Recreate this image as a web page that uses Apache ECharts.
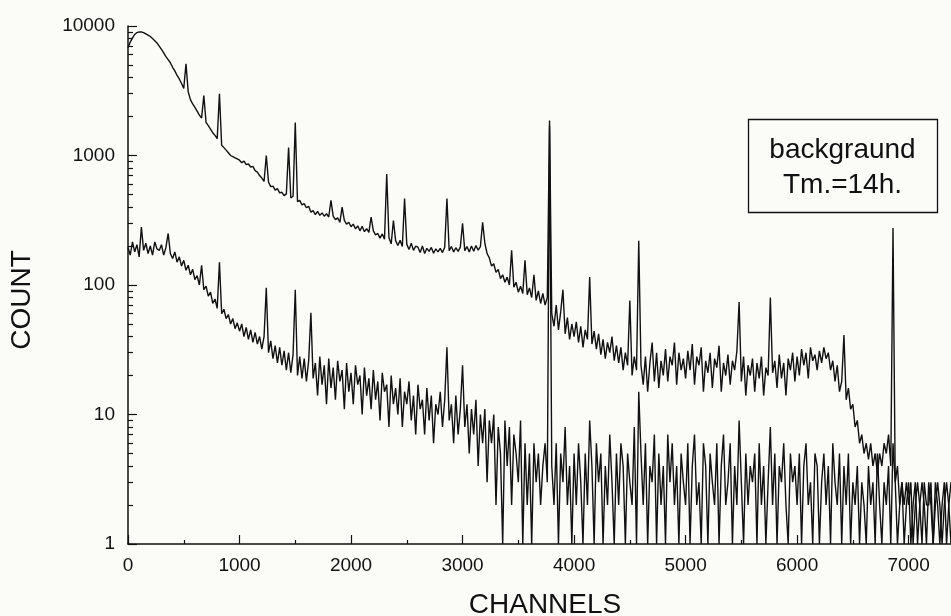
<!DOCTYPE html>
<html>
<head>
<meta charset="utf-8">
<style>
html,body{margin:0;padding:0;background:#fbfbf8;}
.box{width:951px;height:616px;}
</style>
<script src="https://cdn.jsdelivr.net/npm/echarts@6/dist/echarts.min.js"></script>
</head>
<body>
<div class="box" id="c"></div>
<script>
// channel spacing of the sampled values below
const CH_STEP = 20;
const X_MIN = 0;
const X_MAX = 7380;
const X_INTERVAL = 1000;
const Y_MIN = 1;
const Y_MAX = 10000;

// Upper spectrum (counts), one value every CH_STEP channels from channel 0
const upperCounts = [
  6800, 7500, 8100, 8600, 8900, 9000, 9000, 8900, 8700, 8500,
  8300, 8000, 7700, 7400, 7000, 6600, 6200, 5800, 5500, 5200,
  4800, 4500, 4150, 3900, 3600, 3300, 5100, 3100, 2700, 2500,
  2350, 2200, 2050, 1950, 2900, 1800, 1700, 1600, 1500, 1430,
  1350, 3000, 1200, 1150, 1100, 1050, 1000, 980, 960, 940,
  920, 880, 905, 850, 860, 815, 825, 765, 745, 700,
  670, 630, 1000, 625, 575, 580, 540, 555, 515, 520,
  490, 505, 1150, 470, 485, 1800, 440, 450, 415, 425,
  395, 405, 365, 375, 350, 370, 345, 360, 340, 355,
  335, 450, 340, 320, 330, 305, 400, 315, 295, 305,
  282, 295, 272, 286, 262, 284, 258, 272, 255, 335,
  262, 244, 250, 230, 248, 226, 720, 232, 208, 315,
  220, 202, 222, 198, 465, 206, 188, 210, 185, 200,
  196, 178, 200, 175, 192, 182, 195, 176, 190, 180,
  192, 178, 196, 465, 184, 198, 180, 194, 182, 196,
  300, 184, 198, 180, 200, 182, 202, 186, 198, 305,
  210, 175, 162, 140, 146, 125, 132, 112, 120, 105,
  115, 100, 185, 96, 105, 88, 98, 86, 155, 84,
  95, 80, 120, 76, 90, 72, 86, 70, 80, 1860,
  60, 48, 70, 45, 62, 92, 42, 56, 38, 50,
  40, 52, 36, 48, 33, 45, 38, 115, 35, 44,
  32, 42, 29, 38, 27, 36, 30, 40, 26, 34,
  25, 33, 22, 30, 24, 76, 20, 28, 22, 220,
  24, 17, 28, 15, 25, 36, 18, 30, 16, 26,
  20, 32, 18, 28, 24, 36, 17, 30, 22, 27,
  19, 31, 22, 35, 17, 28, 24, 33, 15, 26,
  21, 30, 16, 27, 23, 34, 15, 25, 20, 29,
  17, 26, 22, 31, 74, 18, 28, 14, 24, 20,
  27, 15, 25, 19, 28, 14, 23, 20, 80, 21,
  26, 16, 29, 19, 25, 14, 27, 22, 30, 18,
  28, 20, 32, 24, 30, 19, 33, 26, 29, 22,
  31, 25, 33, 27, 30, 22, 26, 18, 24, 15,
  18, 41, 13, 16, 11, 12, 8, 9, 6, 7,
  5, 6, 4.5, 6, 4, 5, 3.5, 5, 4, 6,
  5, 7, 4, 275, 3, 4, 2, 3, 2, 3,
  2, 3, 1, 2, 3, 2, 1, 3, 2, 2,
  3, 1, 2, 3, 2, 1, 2, 3, 2, 1
];

// Lower spectrum (counts), same channel sampling
const lowerCounts = [
  195, 170, 215, 180, 205, 165, 280, 185, 210, 175,
  200, 170, 215, 190, 185, 205, 170, 195, 250, 175,
  160, 180, 150, 165, 140, 155, 130, 142, 120, 132,
  110, 118, 100, 142, 92, 98, 82, 88, 72, 78,
  66, 150, 60, 65, 55, 59, 50, 55, 46, 51,
  44, 50, 40, 47, 38, 45, 36, 43, 35, 40,
  32, 40, 95, 30, 37, 27, 34, 25, 33, 24,
  31, 22, 30, 21, 29, 92, 20, 28, 19, 27,
  18, 26, 61, 19, 25, 14, 28, 17, 24, 12,
  27, 16, 23, 13, 26, 18, 22, 11, 25, 15,
  21, 12, 24, 17, 20, 10, 23, 14, 19, 11,
  22, 13, 18, 9, 21, 15, 17, 8, 20, 12,
  16, 10, 19, 8, 15, 12, 18, 9, 14, 7,
  17, 11, 13, 7, 16, 9, 14, 6, 12, 10,
  15, 8, 13, 33, 9, 12, 6, 14, 7, 11,
  24, 8, 12, 5, 11, 7, 13, 4, 10, 6,
  11, 3, 9, 6, 10, 2, 8, 5, 1, 9,
  4, 8, 2, 7, 5, 3, 9, 1, 6, 2,
  5, 1, 6, 3, 5, 2, 4, 6, 3, 1700,
  4, 2, 6, 1, 5, 3, 8, 2, 4, 1,
  5, 2, 6, 3, 1, 5, 2, 9, 4, 1,
  6, 3, 5, 1, 4, 2, 7, 3, 1, 5,
  2, 6, 4, 1, 5, 3, 2, 8, 1, 15,
  5, 2, 6, 1, 4, 3, 7, 1, 5, 2,
  4, 1, 7, 3, 6, 2, 4, 1, 5, 3,
  2, 6, 1, 4, 7, 2, 3, 1, 6, 4,
  1, 5, 3, 2, 6, 1, 4, 7, 2, 3,
  6, 1, 4, 2, 9, 3, 1, 5, 2, 4,
  3, 5, 1, 6, 2, 4, 1, 3, 8, 2,
  5, 1, 4, 3, 6, 2, 1, 5, 3, 4,
  2, 5, 1, 4, 6, 2, 3, 1, 5, 4,
  1, 3, 5, 2, 4, 1, 6, 3, 2, 5,
  1, 4, 2, 5, 1, 3, 2, 4, 1, 3,
  2, 1, 4, 2, 3, 1, 5, 2, 1, 3,
  2, 4, 1, 6, 3, 1, 2, 3, 1, 2,
  3, 1, 2, 3, 1, 2, 3, 2, 1, 3,
  2, 1, 3, 2, 1, 2, 3, 1, 2, 3
];

const boxLines = ['backgraund', 'Tm.=14h.'];
const xTitle = 'CHANNELS';
const yTitle = 'COUNT';

const FONT = "'Liberation Sans', Arial, Helvetica, sans-serif";
const INK = '#111';

const toPairs = arr => arr.map((v, i) => [i * CH_STEP, v]);

const myChart = echarts.init(document.getElementById('c'), null, {renderer: 'canvas'});
myChart.setOption({
  backgroundColor: '#fbfbf8',
  animation: false,
  title: {text: '', left: 300, textStyle: {fontSize: 12}},
  grid: {left: 128, right: 0, top: 26, bottom: 72, outerBoundsMode: 'none'},
  xAxis: {
    type: 'value', min: X_MIN, max: X_MAX, interval: X_INTERVAL,
    name: xTitle, nameLocation: 'middle', nameGap: 47,
    nameTextStyle: {fontFamily: FONT, fontSize: 28, color: INK, padding: [0, 0, 0, 11]},
    axisLine: {show: true, lineStyle: {color: INK, width: 1.5}},
    axisTick: {show: true, inside: true, length: 9, lineStyle: {color: INK, width: 1.2}},
    minorTick: {show: true, splitNumber: 2, length: 4, lineStyle: {color: INK, width: 1.2}},
    axisLabel: {fontFamily: FONT, fontSize: 19, color: INK, margin: 12, showMaxLabel: false,
      formatter: v => String(v)},
    splitLine: {show: false}
  },
  yAxis: {
    type: 'log', logBase: 10, min: Y_MIN, max: Y_MAX, splitNumber: 4,
    name: yTitle, nameLocation: 'middle', nameGap: 92,
    nameTextStyle: {fontFamily: FONT, fontSize: 28, color: INK, padding: [0, 30, 0, 0]},
    axisLine: {show: true, lineStyle: {color: INK, width: 1.5}},
    axisTick: {show: true, inside: true, length: 9, lineStyle: {color: INK, width: 1.2}},
    minorTick: {show: true, splitNumber: 9, length: 5, lineStyle: {color: INK, width: 1.2}},
    axisLabel: {fontFamily: FONT, fontSize: 19, color: INK, margin: 13, formatter: v => String(v)},
    splitLine: {show: false}
  },
  series: [{
    name: 'upper', type: 'line', showSymbol: false, symbol: 'none',
    lineStyle: {color: INK, width: 1.4},
    data: toPairs(upperCounts), z: 3
  }, {
    name: 'lower', type: 'line', showSymbol: false, symbol: 'none',
    lineStyle: {color: INK, width: 1.4},
    data: toPairs(lowerCounts), z: 2
  }],
  graphic: [{
    type: 'group', left: 746, top: 117,
    children: [{
      type: 'rect', shape: {x: 0, y: 0, width: 189, height: 93},
      style: {fill: 'none', stroke: INK, lineWidth: 1.3}
    }, {
      type: 'text', x: 94, y: 31,
      style: {text: boxLines[0], font: "28px " + FONT, fill: INK, textAlign: 'center', textVerticalAlign: 'middle'}
    }, {
      type: 'text', x: 94, y: 66,
      style: {text: boxLines[1], font: "28px " + FONT, fill: INK, textAlign: 'center', textVerticalAlign: 'middle'}
    }]
  }]
});
</script>
</body>
</html>
